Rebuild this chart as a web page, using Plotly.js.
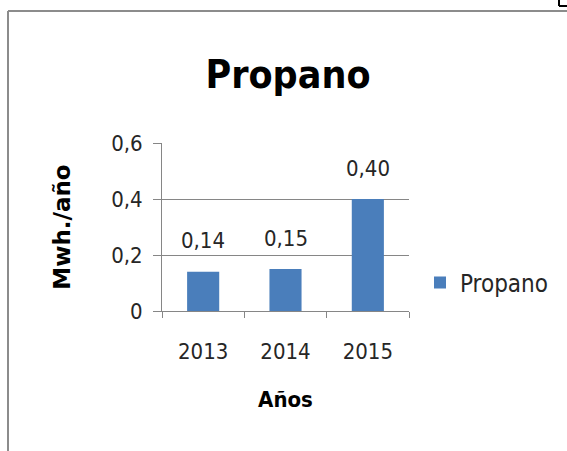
<!DOCTYPE html>
<html>
<head>
<meta charset="utf-8">
<script src="https://cdn.plot.ly/plotly-3.0.1.min.js"></script>
<style>
html,body{margin:0;padding:0;background:#fff;}
#chart{width:567px;height:451px;}
</style>
</head>
<body>
<div id="chart"></div>
<script>
const categories = ['2013', '2014', '2015'];
const values = [0.14, 0.15, 0.40];
const seriesName = 'Propano';
const yTickValues = [0, 0.2, 0.4, 0.6];

const W = 567, H = 451;
const M = {l: 162, r: 158, t: 143, b: 140};
const pw = W - M.l - M.r, ph = H - M.t - M.b;
const px = x => (x - M.l) / pw;
const py = y => (H - M.b - y) / ph;

const font = 'DejaVu Sans Condensed, DejaVu Sans, sans-serif';
const txt = '#262626';

const trace = {
  type: 'bar',
  x: categories,
  y: values,
  name: seriesName,
  marker: {color: '#4a7ebb'},
  width: 0.39,
  showlegend: true,
  hoverinfo: 'none'
};

const fmt = v => v.toFixed(2).replace('.', ',');
const labels = categories.map((c, i) => ({
  x: i, y: values[i], xref: 'x', yref: 'y',
  text: fmt(values[i]), showarrow: false,
  xanchor: 'center', yanchor: 'middle', yshift: 31,
  font: {family: font, size: 22, color: txt}
}));

const layout = {
  width: W, height: H,
  margin: M,
  separators: ',.',
  paper_bgcolor: '#fff',
  plot_bgcolor: '#fff',
  showlegend: true,
  title: {
    text: '<b>Propano</b>',
    font: {family: font, size: 39, color: '#000'},
    x: 288 / W, xref: 'container', xanchor: 'center',
    y: 1 - 74 / H, yref: 'container', yanchor: 'middle'
  },
  xaxis: {
    type: 'category',
    categoryorder: 'array', categoryarray: categories,
    range: [-0.5, categories.length - 0.5],
    autorange: false,
    tickangle: 0,
    tickfont: {family: font, size: 22, color: txt},
    ticks: 'outside', ticklen: 6, tickcolor: '#868686',
    tickson: 'boundaries',
    ticklabelstandoff: 21,
    showline: true, linecolor: '#868686', linewidth: 1,
    showgrid: false,
    title: {text: '<b>Años</b>', font: {family: font, size: 22, color: '#000'}, standoff: 28},
    fixedrange: true
  },
  yaxis: {
    range: [0, 0.6],
    autorange: false,
    tickvals: yTickValues,
    tickfont: {family: font, size: 22, color: txt},
    ticks: 'outside', ticklen: 8, tickcolor: '#868686',
    ticklabelstandoff: 6,
    showline: true, linecolor: '#868686', linewidth: 1,
    showgrid: true, gridcolor: '#868686', gridwidth: 1,
    zeroline: false,
    title: {text: '<b>Mwh./año</b>', font: {family: 'DejaVu Sans, sans-serif', size: 23, color: '#000'}, standoff: 34},
    fixedrange: true
  },
  legend: {
    x: 420 / W, y: 1 - 283 / H, xref: 'container', yref: 'container',
    xanchor: 'left', yanchor: 'middle',
    font: {family: font, size: 24, color: txt},
    bgcolor: 'rgba(0,0,0,0)'
  },
  annotations: labels,
  shapes: [
    {type: 'line', xref: 'paper', yref: 'paper', x0: px(8), x1: px(567), y0: py(11), y1: py(11), line: {color: '#8c8c8c', width: 2}},
    {type: 'line', xref: 'paper', yref: 'paper', x0: px(8), x1: px(8), y0: py(11), y1: py(451), line: {color: '#8c8c8c', width: 2}},
    {type: 'line', xref: 'paper', yref: 'paper', x0: px(559), x1: px(559), y0: py(0), y1: py(6), line: {color: '#000', width: 2}},
    {type: 'line', xref: 'paper', yref: 'paper', x0: px(559), x1: px(567), y0: py(6), y1: py(6), line: {color: '#000', width: 2}}
  ]
};

Plotly.newPlot('chart', [trace], layout, {displayModeBar: false, staticPlot: true});
</script>
</body>
</html>
